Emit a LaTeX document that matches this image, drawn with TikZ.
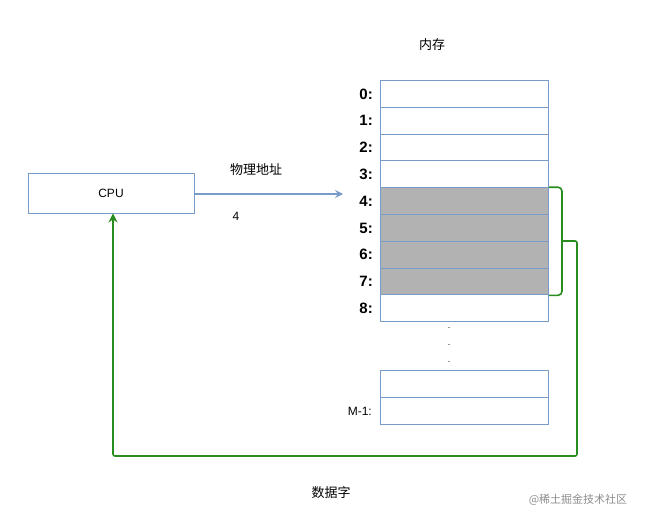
\documentclass[tikz,border=0pt]{standalone}
\usepackage{fontspec}
\setmainfont{Liberation Sans}
\newfontfamily\cjk{Noto Sans CJK SC}
\usetikzlibrary{positioning,arrows.meta}
\definecolor{cellblue}{RGB}{120,155,200}
\definecolor{brgreen}{RGB}{40,140,30}
\tikzset{
  cell/.style={draw=cellblue, line width=0.9pt, minimum width=168pt, minimum height=26.8pt, inner sep=0pt, anchor=north west},
  shaded/.style={cell, fill=black!30},
  addr/.style={anchor=east, font=\fontsize{15}{15}\selectfont\bfseries, inner sep=0pt},
  lbl/.style={font=\cjk\fontsize{13}{13}\selectfont, inner sep=0pt},
}
\begin{document}
\begin{tikzpicture}[x=1pt,y=-1pt]
\useasboundingbox (0,0) rectangle (658,527);
\node[lbl] (title) at (432,45) {内存};
% memory cells
\foreach \i in {0,...,8}{
  \ifnum\i>3 \ifnum\i<8
    \node[shaded] (m\i) at (380,80+26.8*\i) {};
  \else
    \node[cell] (m\i) at (380,80+26.8*\i) {};
  \fi\else
    \node[cell] (m\i) at (380,80+26.8*\i) {};
  \fi
  \node[addr] (l\i) at (373,94+26.8*\i) {\i:};
}
\foreach \y in {328,345,362}{ \node[inner sep=0pt, font=\small] at (449,\y) {.}; }
\node[cell] (ma) at (380,370) {};
\node[cell] (mb) at (380,397) {};
\node[addr, font=\fontsize{12}{12}\selectfont] (lm) at (372,411) {M-1:};
% cpu
\node[draw=cellblue, line width=0.9pt, minimum width=166pt, minimum height=40pt, inner sep=0pt, font=\fontsize{12}{12}\selectfont] (cpu) at (111,193) {CPU};
\coordinate (tip) at (343,194);
\draw[cellblue, line width=1.6pt, -{Stealth[length=8pt,width=8pt,inset=3pt]}] (cpu.east |- tip) -- (tip);
\node[lbl] (pa) at (256,170) {物理地址};
\node[font=\fontsize{12}{12}\selectfont] (four) at (236,216) {4};
% data word bracket
\coordinate (b1) at (562,241);
\coordinate (b2) at (577,241);
\coordinate (b3) at (577,456);
\coordinate (b4) at (113,456);
\draw[brgreen, line width=1.6pt, rounded corners=4pt] (m4.north east) -- (m4.north east -| b1) -- (m7.south east -| b1) -- (m7.south east);
\draw[brgreen, line width=1.6pt, rounded corners=2pt, -{Stealth[length=9pt,width=9pt,inset=3pt]}] (b1) -- (b2) -- (b3) -- (b4) -- (b4 |- cpu.south);
\node[lbl] (dw) at (331,493) {数据字};
\node[lbl, text=black!45, font=\cjk\fontsize{11}{11}\selectfont] (wm) at (578,500) {@稀土掘金技术社区};
\end{tikzpicture}
\end{document}
